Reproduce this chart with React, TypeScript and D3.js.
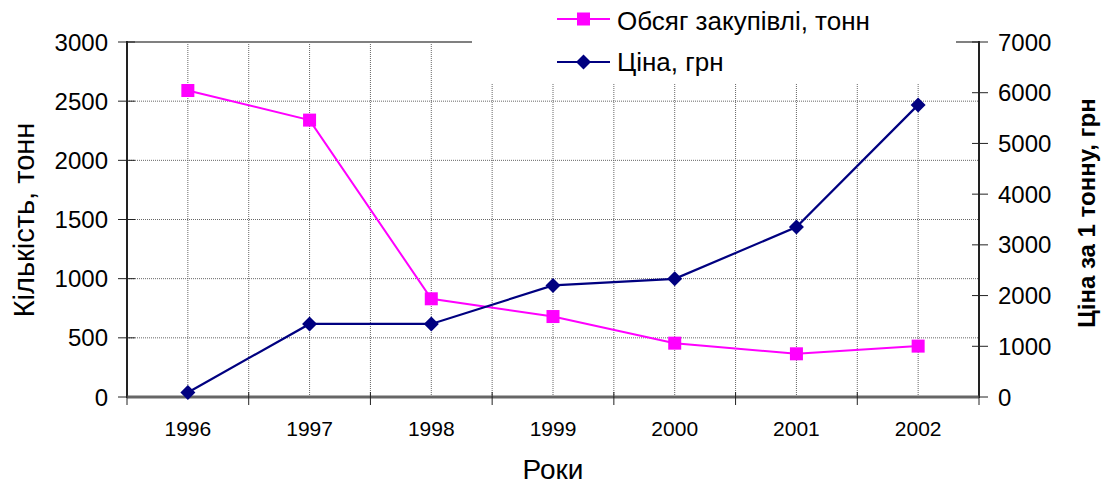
import React from "react";
import * as d3 from "d3";

const years = ["1996", "1997", "1998", "1999", "2000", "2001", "2002"];
const volume = [2590, 2340, 830, 680, 455, 365, 430];
const price = [90, 1440, 1440, 2200, 2330, 3350, 5760];
const leftTicks = [0, 500, 1000, 1500, 2000, 2500, 3000];
const rightTicks = [0, 1000, 2000, 3000, 4000, 5000, 6000, 7000];
const seriesNames = ["Обсяг закупівлі, тонн", "Ціна, грн"];

const W = 1103, H = 486;
const L = 127, R = 979, T = 42, B = 397;
const FONT = "'Liberation Sans', Arial, sans-serif";

export default function App() {
  const x = d3.scaleBand().domain(years).range([L, R]);
  const yL = d3.scaleLinear().domain([0, 3000]).range([B, T]);
  const yR = d3.scaleLinear().domain([0, 7000]).range([B, T]);
  const cx = (y: string) => (x(y) as number) + x.bandwidth() / 2;

  const lineL = d3.line<number>().x((_, i) => cx(years[i])).y((d) => yL(d));
  const lineR = d3.line<number>().x((_, i) => cx(years[i])).y((d) => yR(d));

  const boundaries = years.map((y) => x(y) as number).concat([R]);
  const grid = "#666";
  const diamond = (px: number, py: number, s: number) =>
    `M${px},${py - s} L${px + s},${py} L${px},${py + s} L${px - s},${py} Z`;

  return (
    <svg width={W} height={H} style={{ position: "absolute", left: 0, top: 0, background: "#fff" }} fontFamily={FONT}>
      {/* horizontal gridlines */}
      {leftTicks.filter((t) => t > 0 && t < 3000).map((t) => (
        <line key={"h" + t} x1={L} x2={R} y1={yL(t)} y2={yL(t)} stroke={grid} strokeWidth={1} strokeDasharray="1,1" />
      ))}
      {/* vertical gridlines at centers and boundaries */}
      {years.map((y) => (
        <line key={"vc" + y} x1={cx(y)} x2={cx(y)} y1={T} y2={B} stroke={grid} strokeWidth={1} strokeDasharray="1,1" />
      ))}
      {boundaries.slice(1, -1).map((b, i) => (
        <line key={"vb" + i} x1={b} x2={b} y1={T} y2={B} stroke={grid} strokeWidth={1} strokeDasharray="1,1" />
      ))}
      {/* top border */}
      <line x1={L} x2={R} y1={T} y2={T} stroke="#808080" strokeWidth={2} />
      {/* legend background */}
      <rect x={472} y={0} width={484} height={83} fill="#fff" />

      {/* left axis */}
      <line x1={L} x2={L} y1={T - 1} y2={B + 1} stroke="#222" strokeWidth={2} />
      {leftTicks.map((t) => (
        <g key={"lt" + t}>
          <line x1={L - 9} x2={L + 8} y1={yL(t)} y2={yL(t)} stroke="#222" strokeWidth={1} />
          <text x={108} y={yL(t)} dy="0.36em" textAnchor="end" fontSize={24} fill="#000">{t}</text>
        </g>
      ))}
      {/* right axis */}
      <line x1={R} x2={R} y1={T - 1} y2={B + 1} stroke="#222" strokeWidth={2} />
      {rightTicks.map((t) => (
        <g key={"rt" + t}>
          <line x1={R - 7} x2={R + 9} y1={yR(t)} y2={yR(t)} stroke="#222" strokeWidth={1} />
          <text x={998} y={yR(t)} dy="0.36em" textAnchor="start" fontSize={24} fill="#000">{t}</text>
        </g>
      ))}
      {/* bottom axis */}
      <line x1={L} x2={R} y1={B} y2={B} stroke="#666" strokeWidth={3} />
      {boundaries.map((b, i) => (
        <line key={"bt" + i} x1={b} x2={b} y1={B - 5} y2={B + 8} stroke="#222" strokeWidth={1} />
      ))}
      {years.map((y) => (
        <text key={"xl" + y} x={cx(y)} y={436} textAnchor="middle" fontSize={21} fill="#000">{y}</text>
      ))}

      {/* series */}
      <path d={lineL(volume) || ""} fill="none" stroke="#FF00FF" strokeWidth={2} />
      <path d={lineR(price) || ""} fill="none" stroke="#000080" strokeWidth={2.2} />
      {volume.map((v, i) => (
        <rect key={"m" + i} x={cx(years[i]) - 6.5} y={yL(v) - 6.5} width={13} height={13} fill="#FF00FF" />
      ))}
      {price.map((v, i) => (
        <path key={"d" + i} d={diamond(cx(years[i]), yR(v), 7.5)} fill="#000080" />
      ))}

      {/* legend */}
      <line x1={557} x2={610} y1={19} y2={19} stroke="#FF00FF" strokeWidth={2} />
      <rect x={577} y={12.5} width={13} height={13} fill="#FF00FF" />
      <text x={617} y={30} fontSize={26} fill="#000">{seriesNames[0]}</text>
      <line x1={557} x2={610} y1={62} y2={62} stroke="#000080" strokeWidth={2.2} />
      <path d={diamond(583.5, 62, 7.5)} fill="#000080" />
      <text x={617} y={71} fontSize={26} fill="#000">{seriesNames[1]}</text>

      {/* axis titles */}
      <text transform={`translate(34,220) rotate(-90)`} textAnchor="middle" fontSize={29} fill="#000">Кількість, тонн</text>
      <text transform={`translate(1095,213) rotate(-90)`} textAnchor="middle" fontSize={24} fontWeight="bold" fill="#000">Ціна за 1 тонну, грн</text>
      <text x={553} y={479} textAnchor="middle" fontSize={28} fill="#000">Роки</text>
    </svg>
  );
}
